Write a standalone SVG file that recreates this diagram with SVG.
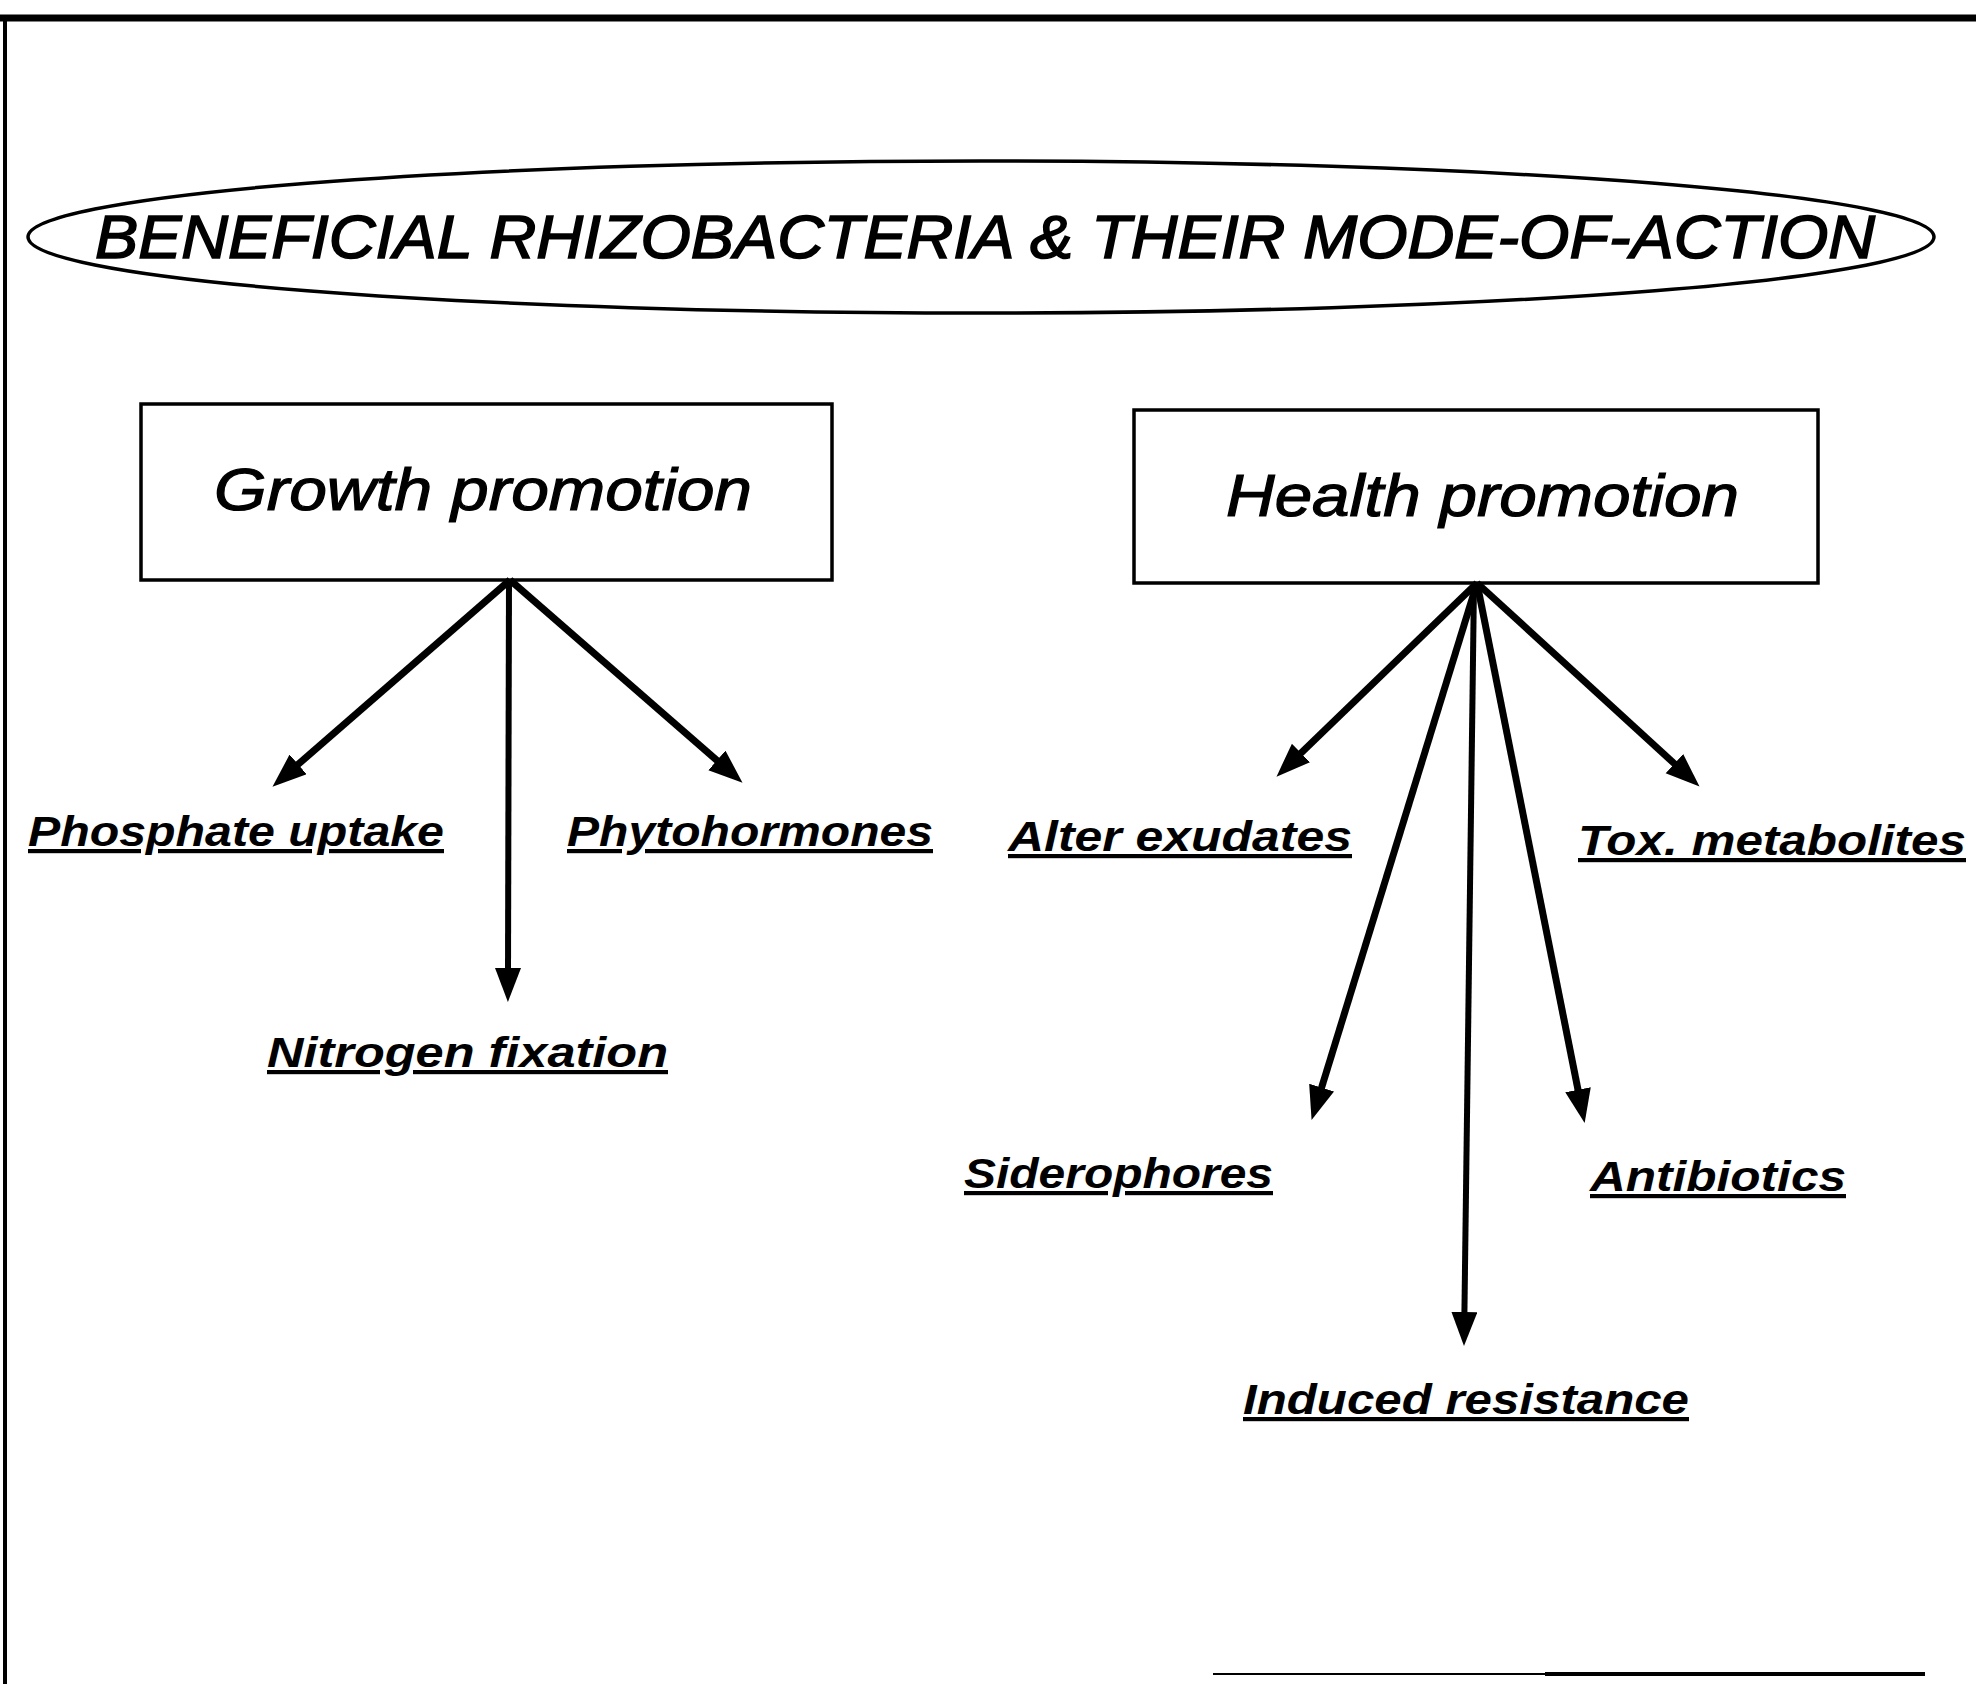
<svg xmlns="http://www.w3.org/2000/svg" width="1976" height="1684" viewBox="0 0 1976 1684">
<style>
.frame{stroke:#000;fill:none}
.node{fill:#fff;stroke:#000;stroke-width:3.5}
.title{font-family:"Liberation Sans",Arial,sans-serif;font-style:italic;font-size:62px;fill:#000;stroke:#000;stroke-width:1.6}
.box{font-family:"Liberation Sans",Arial,sans-serif;font-style:italic;font-size:60px;fill:#000;stroke:#000;stroke-width:1.2}
.lbl{font-family:"Liberation Sans",Arial,sans-serif;font-style:italic;font-weight:bold;font-size:42px;fill:#000;text-decoration:underline}
.conn{stroke:#000;stroke-width:7;fill:none;marker-end:url(#ah)}
</style>
<defs>
<marker id="ah" markerUnits="userSpaceOnUse" markerWidth="40" markerHeight="30" refX="2" refY="13" orient="auto">
<path d="M0,0 L34,13 L0,26 Z" fill="#000"/>
</marker>
</defs>
<rect width="1976" height="1684" fill="#fff"/>
<g id="frame">
<line class="frame" x1="0" y1="18" x2="1976" y2="18" stroke-width="7"/>
<line class="frame" x1="5" y1="16" x2="5" y2="1684" stroke-width="4"/>
<line class="frame" x1="1213" y1="1674" x2="1545" y2="1674" stroke-width="2" stroke="#999"/>
<line class="frame" x1="1545" y1="1674" x2="1925" y2="1674" stroke-width="4"/>
</g>
<g id="title">
<ellipse class="node" cx="981" cy="237" rx="953" ry="76"/>
<text class="title" x="95" y="258" textLength="1780" lengthAdjust="spacingAndGlyphs">BENEFICIAL RHIZOBACTERIA &amp; THEIR MODE-OF-ACTION</text>
</g>
<g id="growth">
<rect class="node" x="141" y="404" width="691" height="176"/>
<text class="box" x="214" y="510" textLength="538" lengthAdjust="spacingAndGlyphs">Growth promotion</text>
</g>
<g id="health">
<rect class="node" x="1134" y="410" width="684" height="173"/>
<text class="box" x="1226" y="516" textLength="513" lengthAdjust="spacingAndGlyphs">Health promotion</text>
</g>
<g id="connectors">
<line class="conn" x1="510" y1="580" x2="296.6" y2="765.7"/>
<line class="conn" x1="509" y1="580" x2="508" y2="970" style="stroke-width:6"/>
<line class="conn" x1="510" y1="580" x2="718.4" y2="761.7"/>
<line class="conn" x1="1477" y1="583" x2="1299.5" y2="754.4"/>
<line class="conn" x1="1477" y1="583" x2="1321" y2="1089.5"/>
<line class="conn" x1="1474" y1="583" x2="1464.4" y2="1314" style="stroke-width:6"/>
<line class="conn" x1="1477" y1="583" x2="1578.4" y2="1091.7"/>
<line class="conn" x1="1477" y1="583" x2="1675.9" y2="765"/>
</g>
<g id="phosphate"><text class="lbl" x="28" y="846" textLength="416" lengthAdjust="spacingAndGlyphs">Phosphate uptake</text></g>
<g id="phytohormones"><text class="lbl" x="567" y="846" textLength="366" lengthAdjust="spacingAndGlyphs">Phytohormones</text></g>
<g id="nitrogen"><text class="lbl" x="267" y="1067" textLength="401" lengthAdjust="spacingAndGlyphs">Nitrogen fixation</text></g>
<g id="alter"><text class="lbl" x="1008" y="851" textLength="344" lengthAdjust="spacingAndGlyphs">Alter exudates</text></g>
<g id="tox"><text class="lbl" x="1578" y="855" textLength="388" lengthAdjust="spacingAndGlyphs">Tox. metabolites</text></g>
<g id="siderophores"><text class="lbl" x="964" y="1188" textLength="309" lengthAdjust="spacingAndGlyphs">Siderophores</text></g>
<g id="antibiotics"><text class="lbl" x="1590" y="1191" textLength="256" lengthAdjust="spacingAndGlyphs">Antibiotics</text></g>
<g id="induced"><text class="lbl" x="1243" y="1414" textLength="446" lengthAdjust="spacingAndGlyphs">Induced resistance</text></g>
</svg>
